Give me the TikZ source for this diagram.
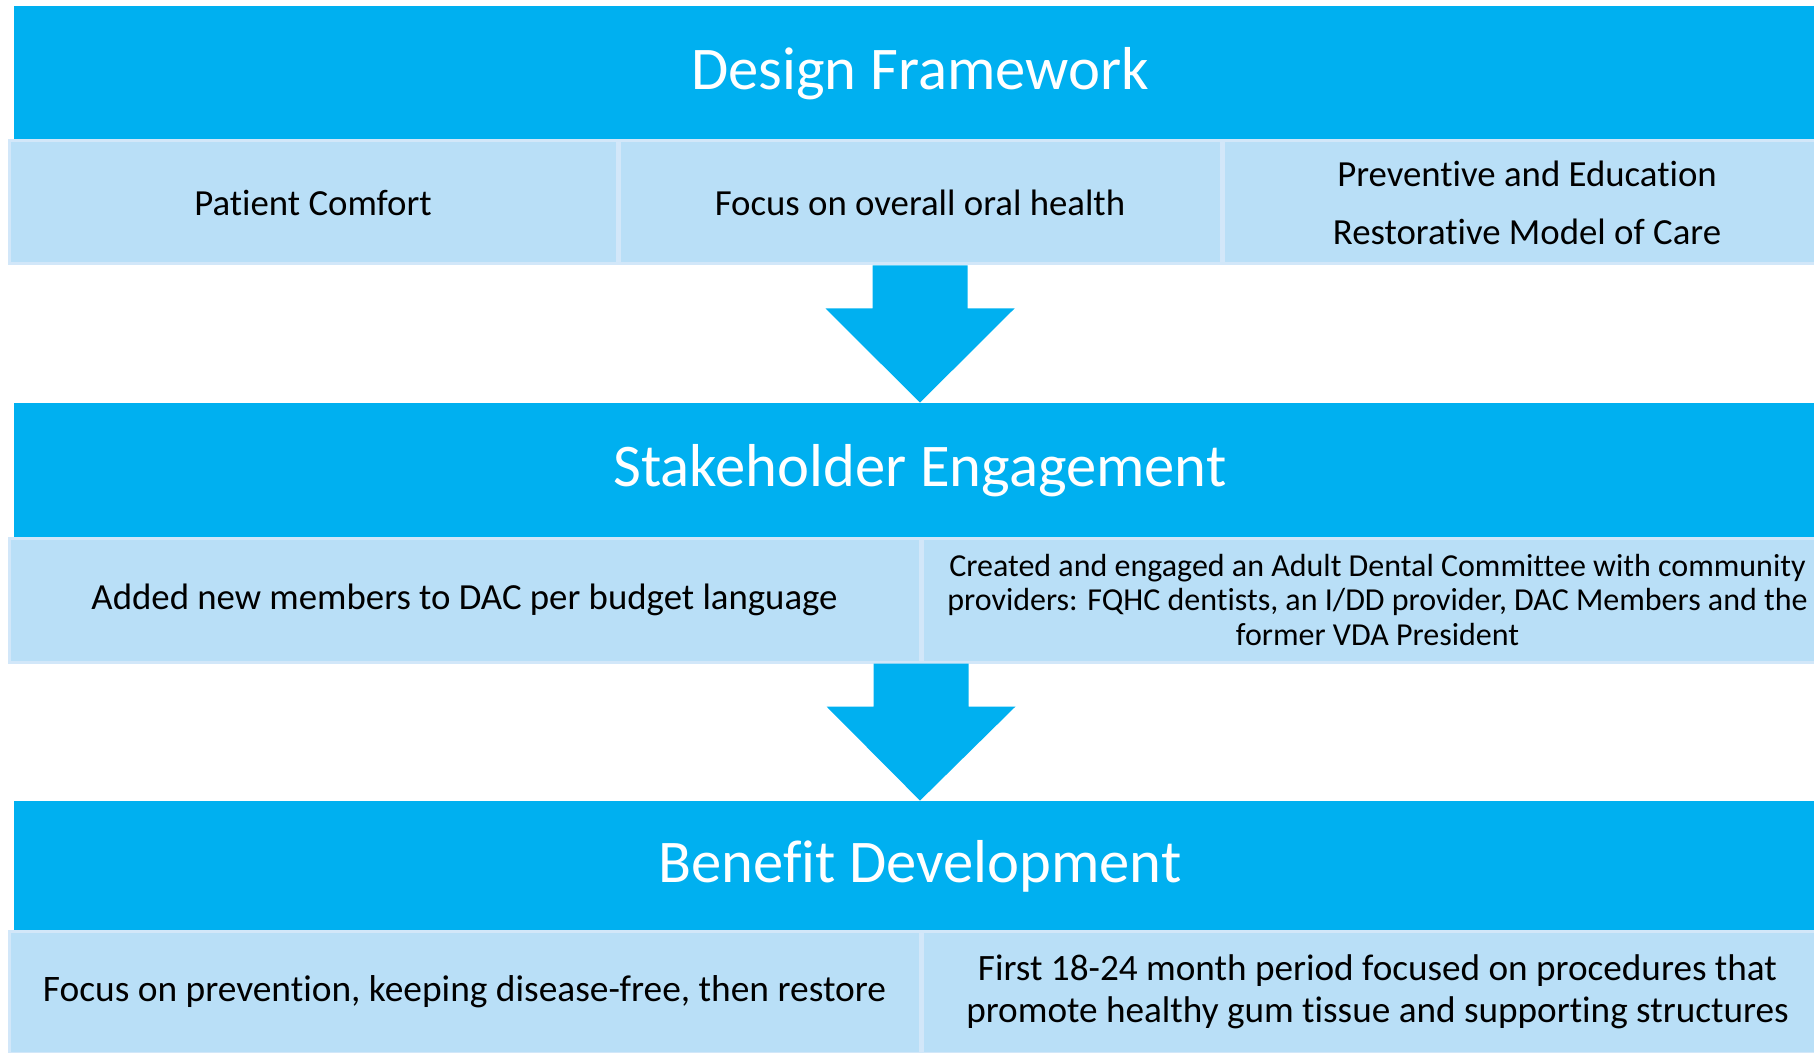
\documentclass[tikz,border=0pt]{standalone}
\usepackage{fontspec}
\setmainfont{Carlito}[Ligatures=NoCommon]
\usetikzlibrary{calc}
\definecolor{hdrcol}{RGB}{0,176,240}
\definecolor{cellcol}{RGB}{185,223,247}
\definecolor{celledge}{RGB}{210,231,249}
\tikzset{
  header/.style={fill=hdrcol, text=white, inner sep=0pt, minimum width=906pt,
    font=\fontsize{30.3}{36}\selectfont},
  cell/.style={fill=cellcol, draw=celledge, line width=1.5pt, inner sep=0pt,
    align=center, font=\fontsize{18.4}{22}\selectfont},
  blockarrow/.style={fill=hdrcol},
}
\begin{document}
\begin{tikzpicture}[x=0.5pt,y=-0.5pt]
  \useasboundingbox (0,0) rectangle (1814,1053);
  \clip (0,0) rectangle (1814,1053);
%%
  % Node: framework
  \node[header, minimum height=67.5pt] (framework) at (920,73.5) {Design Framework};
  % Node: comfort
  \node[cell, minimum width=304pt, minimum height=61.5pt] (comfort) at (313,202.5) {Patient Comfort};
  % Node: oralhealth
  \node[cell, minimum width=301pt, minimum height=61.5pt] (oralhealth) at (920,202.5) {Focus on overall oral health};
  % Node: preventive
  \node[cell, minimum width=304pt, minimum height=61.5pt, font=\fontsize{18.4}{29}\selectfont] (preventive) at (1527,202.5)
    {Preventive and Education\\Restorative Model of Care};
%%
  % Node: stakeholder
  \node[header, minimum height=67.5pt] (stakeholder) at (920,470.5) {Stakeholder Engagement};
  % Node: members
  \node[cell, minimum width=455.5pt, minimum height=62pt] (members) at (464.5,600) {Added new members to DAC per budget language};
  % Node: committee
  \node[cell, minimum width=455.5pt, minimum height=62pt, font=\fontsize{16}{17.4}\selectfont] (committee) at (1377.5,600)
    {Created and engaged an Adult Dental Committee with community\\
     providers: FQHC dentists, an I/DD provider, DAC Members and the\\
     former VDA President};
%%
  % Node: benefit
  \node[header, minimum height=65pt] (benefit) at (920,866) {Benefit Development};
  % Node: prevention
  \node[cell, minimum width=455.5pt, minimum height=61pt, font=\fontsize{18.7}{22}\selectfont] (prevention) at (464.5,992)
    {Focus on prevention, keeping disease-free, then restore};
  % Node: gumtissue
  \node[cell, minimum width=455.5pt, minimum height=61pt, font=\fontsize{18.6}{20.8}\selectfont] (gumtissue) at (1377.5,992)
    {First 18-24 month period focused on procedures that\\
     promote healthy gum tissue and supporting structures};
%%
  % Edge: oralhealth -> stakeholder
  \coordinate (top1) at (oralhealth.south);
  \fill[blockarrow] ($(top1)+(-47.5,0)$) -- ($(top1)+(-47.5,43)$) -- ($(top1)+(-94.5,43)$)
    -- (stakeholder.north) -- ($(top1)+(94.5,43)$) -- ($(top1)+(47.5,43)$) -- ($(top1)+(47.5,0)$) -- cycle;
  % Edge: members/committee -> benefit
  \coordinate (top2) at ($(members.south east)!.5!(committee.south west)$);
  \fill[blockarrow] ($(top2)+(-47.5,0)$) -- ($(top2)+(-47.5,43)$) -- ($(top2)+(-94.5,43)$)
    -- (benefit.north) -- ($(top2)+(94.5,43)$) -- ($(top2)+(47.5,43)$) -- ($(top2)+(47.5,0)$) -- cycle;
%
\end{tikzpicture}
\end{document}
